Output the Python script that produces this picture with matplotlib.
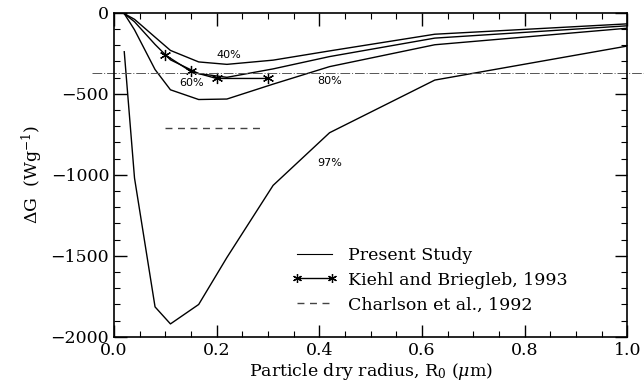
import numpy as np
import matplotlib
matplotlib.use('Agg')
import matplotlib.pyplot as plt
from matplotlib.ticker import MultipleLocator

plt.rcParams['font.family'] = ['DejaVu Serif']
plt.rcParams['mathtext.fontset'] = 'dejavuserif'

# particle dry radius (um)
radius = [0.02, 0.04, 0.08, 0.11, 0.165, 0.22, 0.31, 0.42, 0.625, 1.0]
# present study, dG (W/g) for each relative humidity
dg_40 = [-5, -40, -150, -232, -303, -318, -292, -235, -132, -68]
dg_60 = [-5, -55, -195, -290, -375, -398, -346, -270, -156, -80]
dg_80 = [-5, -105, -350, -475, -535, -532, -440, -332, -197, -95]
dg_97 = [-240, -1020, -1815, -1920, -1800, -1510, -1065, -740, -415, -205]

# Kiehl and Briegleb, 1993
kb_radius = [0.1, 0.15, 0.2, 0.3]
kb_dg = [-260, -362, -405, -405]

# Charlson et al., 1992
ch_radius = [0.1, 0.29]
ch_dg = [-710, -710]

ref_line = -370   # stray horizontal line across the page

rh_labels = ['40%', '60%', '80%', '97%']
rh_label_x = [0.223, 0.151, 0.421, 0.421]
rh_label_y = [-263, -432, -418, -928]

fig = plt.figure(figsize=(6.44, 3.89), dpi=100)
ax = fig.add_axes([0.177, 0.134, 0.797, 0.833])

for d in [dg_40, dg_60, dg_80, dg_97]:
    ax.plot(radius, d, color='black', lw=1.0)
ax.plot([], [], color='black', lw=0.8, label='Present Study')
ax.plot(kb_radius, kb_dg, color='black', lw=1.0, marker=(6, 2, 0), ms=8, mew=0.9,
        label='Kiehl and Briegleb, 1993')
ax.plot(ch_radius, ch_dg, color='#444444', lw=1.0, dashes=(5, 4),
        label='Charlson et al., 1992')
ax.axhline(ref_line, xmin=-0.043, xmax=1.033, color='#555555', lw=0.7,
           linestyle=(0, (10, 2, 1, 2)), clip_on=False)

for lab, lx, ly in zip(rh_labels, rh_label_x, rh_label_y):
    ax.text(lx, ly, lab, fontsize=8, ha='center', va='center', family='DejaVu Sans')

ax.set_xlim(0, 1.0)
ax.set_ylim(-2000, 0)
ax.xaxis.set_major_locator(MultipleLocator(0.2))
ax.xaxis.set_minor_locator(MultipleLocator(0.05))
ax.yaxis.set_major_locator(MultipleLocator(500))
ax.yaxis.set_minor_locator(MultipleLocator(100))
ax.set_xticks([0, 0.2, 0.4, 0.6, 0.8, 1.0])
ax.set_xticklabels(['0.0', '0.2', '0.4', '0.6', '0.8', '1.0'])
ax.tick_params(which='both', direction='in', top=True, right=True, labelsize=12.5)
ax.tick_params(which='major', length=9, width=1)
ax.tick_params(which='minor', length=4.5, width=0.8)
ax.tick_params(axis='x', pad=4)
for s in ax.spines.values():
    s.set_linewidth(1.2)

ax.set_xlabel(r'Particle dry radius, R$_0$ ($\mu$m)', fontsize=12.5, labelpad=1)
ax.set_ylabel(r'$\Delta$G  (Wg$^{-1}$)', fontsize=12.5, labelpad=4)

ax.legend(loc='upper left', bbox_to_anchor=(0.33, 0.305), frameon=False, fontsize=12.5,
          handlelength=2.6, handletextpad=0.6, labelspacing=0.45, numpoints=2,
          borderpad=0, markerscale=0.8)

plt.savefig('out.png', dpi=100)
